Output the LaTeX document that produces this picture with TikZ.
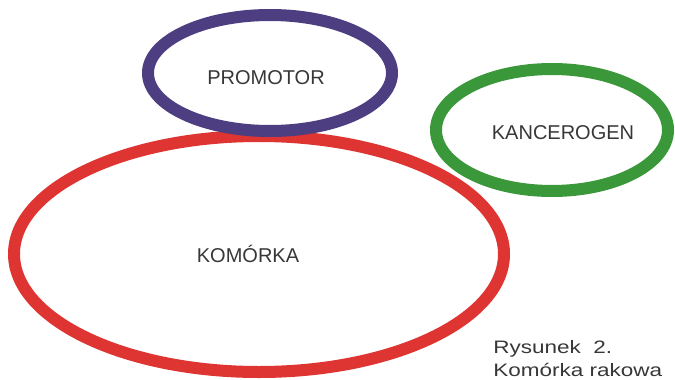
\documentclass[tikz,border=0pt]{standalone}
\usepackage{fontspec}
\setmainfont{Liberation Sans}
\definecolor{cellred}{RGB}{222,52,50}
\definecolor{promviolet}{RGB}{76,62,128}
\definecolor{kancgreen}{RGB}{58,152,58}
\definecolor{txt}{RGB}{55,55,55}
\begin{document}
\begin{tikzpicture}[x=1pt,y=-1pt,
  ring/.style={line width=12pt},
  label/.style={font=\fontsize{20}{24}\selectfont, text=txt, inner sep=0pt, anchor=base},
  caption/.style={font=\fontsize{18}{22}\selectfont, text=txt, inner sep=0pt, anchor=base west, xscale=1.25}]
\useasboundingbox (0,0) rectangle (675,380);
\draw[ring, kancgreen] (552,130) ellipse [x radius=116, y radius=61];
\draw[ring, cellred] (259,254) ellipse [x radius=245, y radius=118];
\draw[ring, promviolet] (270,73) ellipse [x radius=122, y radius=58];
\node[label] (promotor) at (266,84) {PROMOTOR};
\node[label] (kancerogen) at (563,139) {KANCEROGEN};
\node[label] (komorka) at (248,262) {KOMÓRKA};
\node[caption] (cap1) at (493,353) {Rysunek\ \ 2.};
\node[caption] (cap2) at (493,376) {Komórka rakowa};
\end{tikzpicture}
\end{document}
